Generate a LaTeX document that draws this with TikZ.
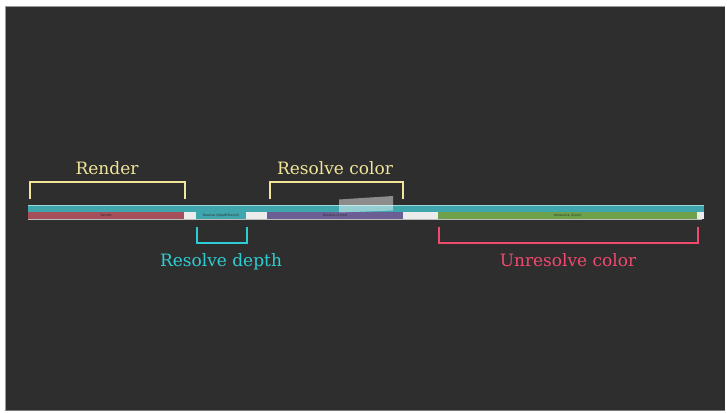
\documentclass[tikz,border=0pt]{standalone}
\usepackage{fontspec}
\setmainfont{DejaVu Serif}
\newfontfamily\tinysans{DejaVu Sans}
\definecolor{bgdark}{HTML}{2E2E2E}
\definecolor{frameline}{HTML}{9A9A9A}
\definecolor{lblyellow}{HTML}{F0E59A}
\definecolor{lblcyan}{HTML}{2ECDD3}
\definecolor{lblpink}{HTML}{F04A6E}
\definecolor{barteal}{HTML}{3FA6AE}
\definecolor{barteallt}{HTML}{9ED6DA}
\definecolor{barred}{HTML}{A64E5A}
\definecolor{barpurple}{HTML}{6A5E95}
\definecolor{bargreen}{HTML}{6FA14A}
\definecolor{barlight}{HTML}{ECECEC}
\definecolor{bartext}{HTML}{2A2A2A}
\begin{document}
\begin{tikzpicture}[x=1pt,y=-1pt,
  bar/.style={draw=none,inner sep=0pt,anchor=north west,font=\tinysans\fontsize{3.2}{3.5}\selectfont,text=bartext},
  lbl/.style={font=\fontsize{17}{19}\selectfont,anchor=base},
  brk/.style={line width=2pt}]
\useasboundingbox (0,0) rectangle (727,412);
\fill[white] (0,0) rectangle (727,412);
\fill[bgdark] (5,6) rectangle (725,411);
\draw[frameline,line width=0.8pt] (5.4,6.4) -- (724.6,6.4);
\draw[frameline,line width=0.8pt] (5.4,6.4) -- (5.4,410.6);
\draw[frameline!70!bgdark,line width=0.8pt] (5.4,410.6) -- (724.6,410.6);
% bars
\node[bar,fill=barteal,minimum width=676pt,minimum height=6.5pt] (track) at (28,205) {};
\draw[barteallt,line width=0.7pt] (track.north west) -- (track.north east);
\node[bar,fill=barlight,minimum width=676pt,minimum height=7pt] (lane) at (28,211.5) {};
\node[bar,fill=barred,minimum width=156pt,minimum height=7pt] (render) at (28,211.5) {Render};
\node[bar,fill=barteal,minimum width=50pt,minimum height=7pt] (rdepth) at (196,211.5) {Resolve (DepthStencil)};
\node[bar,fill=barpurple,minimum width=136pt,minimum height=7pt] (rcolor) at (267,211.5) {Resolve (Color)};
\node[bar,fill=bargreen,minimum width=259pt,minimum height=7pt] (ucolor) at (438,211.5) {Unresolve (Color)};
\coordinate (baseL) at (28,219.2);
\coordinate (baseR) at (702,219.2);
\draw[barlight!80!black,line width=1pt] (baseL) -- (baseR);
% translucent tooltip
\fill[white,opacity=0.45] (339,199.5) -- (393,196) -- (393,210.5) -- (339,212.5) -- cycle;
% brackets
\draw[brk,lblyellow] (30,199) -- (30,182) -- (185,182) -- (185,199);
\draw[brk,lblyellow] (269.5,199) -- (269.5,182) -- (402.5,182) -- (402.5,199);
\draw[brk,lblcyan] (196.5,227) -- (196.5,243) -- (246.5,243) -- (246.5,227);
\draw[brk,lblpink] (439,227) -- (439,243) -- (697.5,243) -- (697.5,227);
% labels
\node[lbl,text=lblyellow] (tRender) at (107,174) {Render};
\node[lbl,text=lblyellow] (tRcolor) at (335,174) {Resolve color};
\node[lbl,text=lblcyan] (tRdepth) at (221,266) {Resolve depth};
\node[lbl,text=lblpink] (tUcolor) at (568,266) {Unresolve color};
\end{tikzpicture}
\end{document}
